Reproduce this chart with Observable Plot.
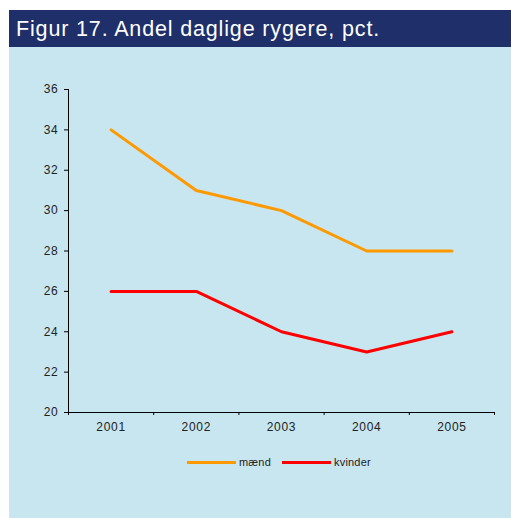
<!DOCTYPE html>
<html>
<head>
<meta charset="utf-8">
<script src="https://cdn.jsdelivr.net/npm/d3@7"></script>
<script src="https://cdn.jsdelivr.net/npm/@observablehq/plot@0.6"></script>
<style>
  html, body { margin: 0; padding: 0; background: #ffffff; }
  body { width: 511px; height: 518px; position: relative; overflow: hidden; font-family: Arial, "Liberation Sans", sans-serif; }
  #frame { position: absolute; left: 9px; top: 10px; width: 502px; height: 508px; background: #c8e6ef; }
  #title { position: absolute; left: 0; top: 0; width: 502px; height: 37px; background: #1e2f6a; color: #ffffff; font-size: 21.5px; line-height: 38px; padding-left: 7px; letter-spacing: 0.85px; box-sizing: border-box; white-space: nowrap; }
  #chart { position: absolute; left: 0; top: 37px; }
  #chart svg text { letter-spacing: 0.7px; }
  #legend { position: absolute; left: 178px; top: 446px; font-size: 11px; letter-spacing: 0.2px; color: #222; display: flex; align-items: center; white-space: nowrap; }
  .item { display: flex; align-items: center; margin-right: 11px; }
  .sw { width: 49px; height: 3px; margin-right: 3px; }
</style>
</head>
<body>
<div id="frame">
  <div id="title">Figur 17. Andel daglige rygere, pct.</div>
  <div id="chart"></div>
  <div id="legend"></div>
</div>
<script>
const years = [2001, 2002, 2003, 2004, 2005];
const maend = [34, 31, 30, 28, 28];
const kvinder = [26, 26, 24, 23, 24];
const seriesNames = ["mænd", "kvinder"];
const seriesColors = ["#ff9900", "#ff0000"];
const yTicks = [20, 22, 24, 26, 28, 30, 32, 34, 36];
const xBoundaries = [2000.5, 2001.5, 2002.5, 2003.5, 2004.5, 2005.5];

const rows = [];
years.forEach((y, i) => {
  rows.push({year: y, value: maend[i], series: seriesNames[0]});
  rows.push({year: y, value: kvinder[i], series: seriesNames[1]});
});

const plot = Plot.plot({
  width: 502,
  height: 400,
  marginLeft: 59,
  marginRight: 17,
  marginTop: 42,
  marginBottom: 35,
  style: { background: "transparent", fontFamily: "Arial, 'Liberation Sans', sans-serif", fontSize: "12px", color: "#222" },
  x: { domain: [2000.5, 2005.5], axis: null },
  y: { domain: [20, 36], axis: null },
  color: { domain: seriesNames, range: seriesColors },
  marks: [
    Plot.axisY({ ticks: yTicks, tickSize: 4, tickPadding: 6, tickFormat: d => String(d), stroke: "#000", fill: "#222", fontSize: 12, label: null }),
    Plot.ruleX([2000.5], { stroke: "#000", strokeWidth: 1 }),
    Plot.axisX({ ticks: xBoundaries, tickSize: 3, tickFormat: () => "", stroke: "#000", label: null }),
    Plot.axisX({ ticks: years, tickSize: 0, tickPadding: 10, tickFormat: d => String(d), fill: "#222", fontSize: 12, label: null }),
    Plot.ruleY([20], { stroke: "#000", strokeWidth: 1 }),
    Plot.line(rows, { x: "year", y: "value", z: "series", stroke: "series", strokeWidth: 3 })
  ]
});
document.getElementById("chart").appendChild(plot);

const legend = document.getElementById("legend");
seriesNames.forEach((n, i) => {
  const it = document.createElement("div");
  it.className = "item";
  const sw = document.createElement("div");
  sw.className = "sw";
  sw.style.background = seriesColors[i];
  const t = document.createElement("span");
  t.textContent = n;
  it.appendChild(sw);
  it.appendChild(t);
  legend.appendChild(it);
});
</script>
</body>
</html>
